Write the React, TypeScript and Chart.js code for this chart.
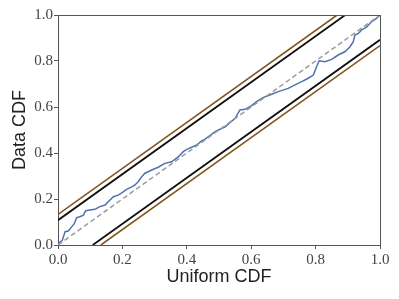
import React, { useEffect, useRef } from "react";
import { Chart, registerables } from "chart.js";

Chart.register(...registerables);

const ecdfX = [0, 0.006, 0.013, 0.022, 0.032, 0.043, 0.051, 0.058, 0.068, 0.079, 0.086, 0.099, 0.115, 0.13, 0.146, 0.156, 0.172, 0.187, 0.198, 0.213, 0.229, 0.239, 0.249, 0.26, 0.27, 0.291, 0.311, 0.332, 0.353, 0.374, 0.389, 0.4, 0.415, 0.431, 0.446, 0.457, 0.488, 0.519, 0.55, 0.565, 0.581, 0.596, 0.617, 0.638, 0.658, 0.684, 0.715, 0.736, 0.757, 0.777, 0.793, 0.803, 0.811, 0.829, 0.85, 0.87, 0.891, 0.907, 0.917, 0.922, 0.933, 0.943, 0.959, 0.969, 0.979, 0.99, 1];
const ecdfY = [0, 0.013, 0.019, 0.058, 0.061, 0.08, 0.094, 0.119, 0.123, 0.13, 0.149, 0.152, 0.155, 0.167, 0.174, 0.188, 0.21, 0.217, 0.227, 0.242, 0.253, 0.261, 0.275, 0.297, 0.312, 0.326, 0.338, 0.355, 0.362, 0.384, 0.406, 0.416, 0.425, 0.435, 0.453, 0.46, 0.493, 0.514, 0.551, 0.587, 0.59, 0.601, 0.623, 0.642, 0.652, 0.667, 0.681, 0.696, 0.71, 0.725, 0.739, 0.775, 0.801, 0.797, 0.807, 0.826, 0.84, 0.862, 0.884, 0.913, 0.92, 0.935, 0.948, 0.964, 0.976, 0.986, 1];

// Reference diagonal
const diagX = [0, 1];
const diagY = [0, 1];

// Inner (black) confidence band
const innerUpperX = [0, 0.892];
const innerUpperY = [0.108, 1];
const innerLowerX = [0.108, 1];
const innerLowerY = [0, 0.892];

// Outer (brown) confidence band
const outerUpperX = [0, 0.867];
const outerUpperY = [0.133, 1];
const outerLowerX = [0.133, 1];
const outerLowerY = [0, 0.867];

const tickValues = [0, 0.2, 0.4, 0.6, 0.8, 1.0];

const zip = (xs: number[], ys: number[]) => xs.map((x, i) => ({ x, y: ys[i] }));

const framePlugin = {
  id: "frame",
  afterDraw(chart: any) {
    const { ctx, chartArea } = chart;
    ctx.save();
    ctx.strokeStyle = "#555";
    ctx.lineWidth = 1;
    ctx.beginPath();
    ctx.moveTo(chartArea.left, chartArea.top + 0.5);
    ctx.lineTo(chartArea.right, chartArea.top + 0.5);
    ctx.moveTo(chartArea.right + 0.5, chartArea.top);
    ctx.lineTo(chartArea.right + 0.5, chartArea.bottom);
    ctx.stroke();
    ctx.restore();
  },
};

export default function App() {
  const ref = useRef<HTMLCanvasElement | null>(null);

  useEffect(() => {
    if (!ref.current) return;
    const line = (data: any[], color: string, width: number, dash: number[] = []) => ({
      data,
      borderColor: color,
      backgroundColor: color,
      borderWidth: width,
      borderDash: dash,
      showLine: true,
      pointRadius: 0,
      tension: 0,
      fill: false,
    });
    const chart = new Chart(ref.current, {
      type: "scatter",
      data: {
        datasets: [
          line(zip(diagX, diagY), "#9a9a9a", 1.5, [5, 3]),
          line(zip(ecdfX, ecdfY), "#4c72b0", 1.5),
          line(zip(innerUpperX, innerUpperY), "#111111", 1.8),
          line(zip(innerLowerX, innerLowerY), "#111111", 1.8),
          line(zip(outerUpperX, outerUpperY), "#85531e", 1.6),
          line(zip(outerLowerX, outerLowerY), "#85531e", 1.6),
        ],
      },
      options: {
        animation: false,
        responsive: false,
        layout: { padding: { top: 15, right: 19, left: 0, bottom: 0 } },
        plugins: { legend: { display: false }, tooltip: { enabled: false } },
        scales: {
          x: {
            type: "linear",
            min: 0,
            max: 1,
            afterFit: (s: any) => { s.height = 54; },
            afterBuildTicks: (s: any) => { s.ticks = tickValues.map((v) => ({ value: v })); },
            ticks: {
              color: "#444",
              padding: 2,
              maxRotation: 0,
              font: { family: "Liberation Serif", size: 15 },
              callback: (v: any) => Number(v).toFixed(1),
            },
            grid: { drawOnChartArea: false, drawTicks: true, tickLength: 4, color: "#555" },
            border: { color: "#555", width: 1 },
            title: {
              display: true,
              text: "Uniform CDF",
              color: "#222",
              font: { family: "Liberation Sans", size: 18 },
              padding: { top: 0, bottom: 11 },
            },
          },
          y: {
            type: "linear",
            min: 0,
            max: 1,
            afterFit: (s: any) => { s.width = 58; },
            afterBuildTicks: (s: any) => { s.ticks = tickValues.map((v) => ({ value: v })); },
            ticks: {
              color: "#444",
              padding: 1,
              font: { family: "Liberation Serif", size: 15 },
              callback: (v: any) => Number(v).toFixed(1),
            },
            grid: { drawOnChartArea: false, drawTicks: true, tickLength: 4, color: "#555" },
            border: { color: "#555", width: 1 },
            title: {
              display: true,
              text: "Data CDF",
              color: "#222",
              font: { family: "Liberation Sans", size: 18 },
              padding: { top: 9, bottom: 0 },
            },
          },
        },
      },
      plugins: [framePlugin],
    });
    return () => chart.destroy();
  }, []);

  return (
    <div style={{ position: "absolute", left: 0, top: 0, width: 399, height: 299, background: "#fff" }}>
      <canvas ref={ref} width={399} height={299} />
    </div>
  );
}
